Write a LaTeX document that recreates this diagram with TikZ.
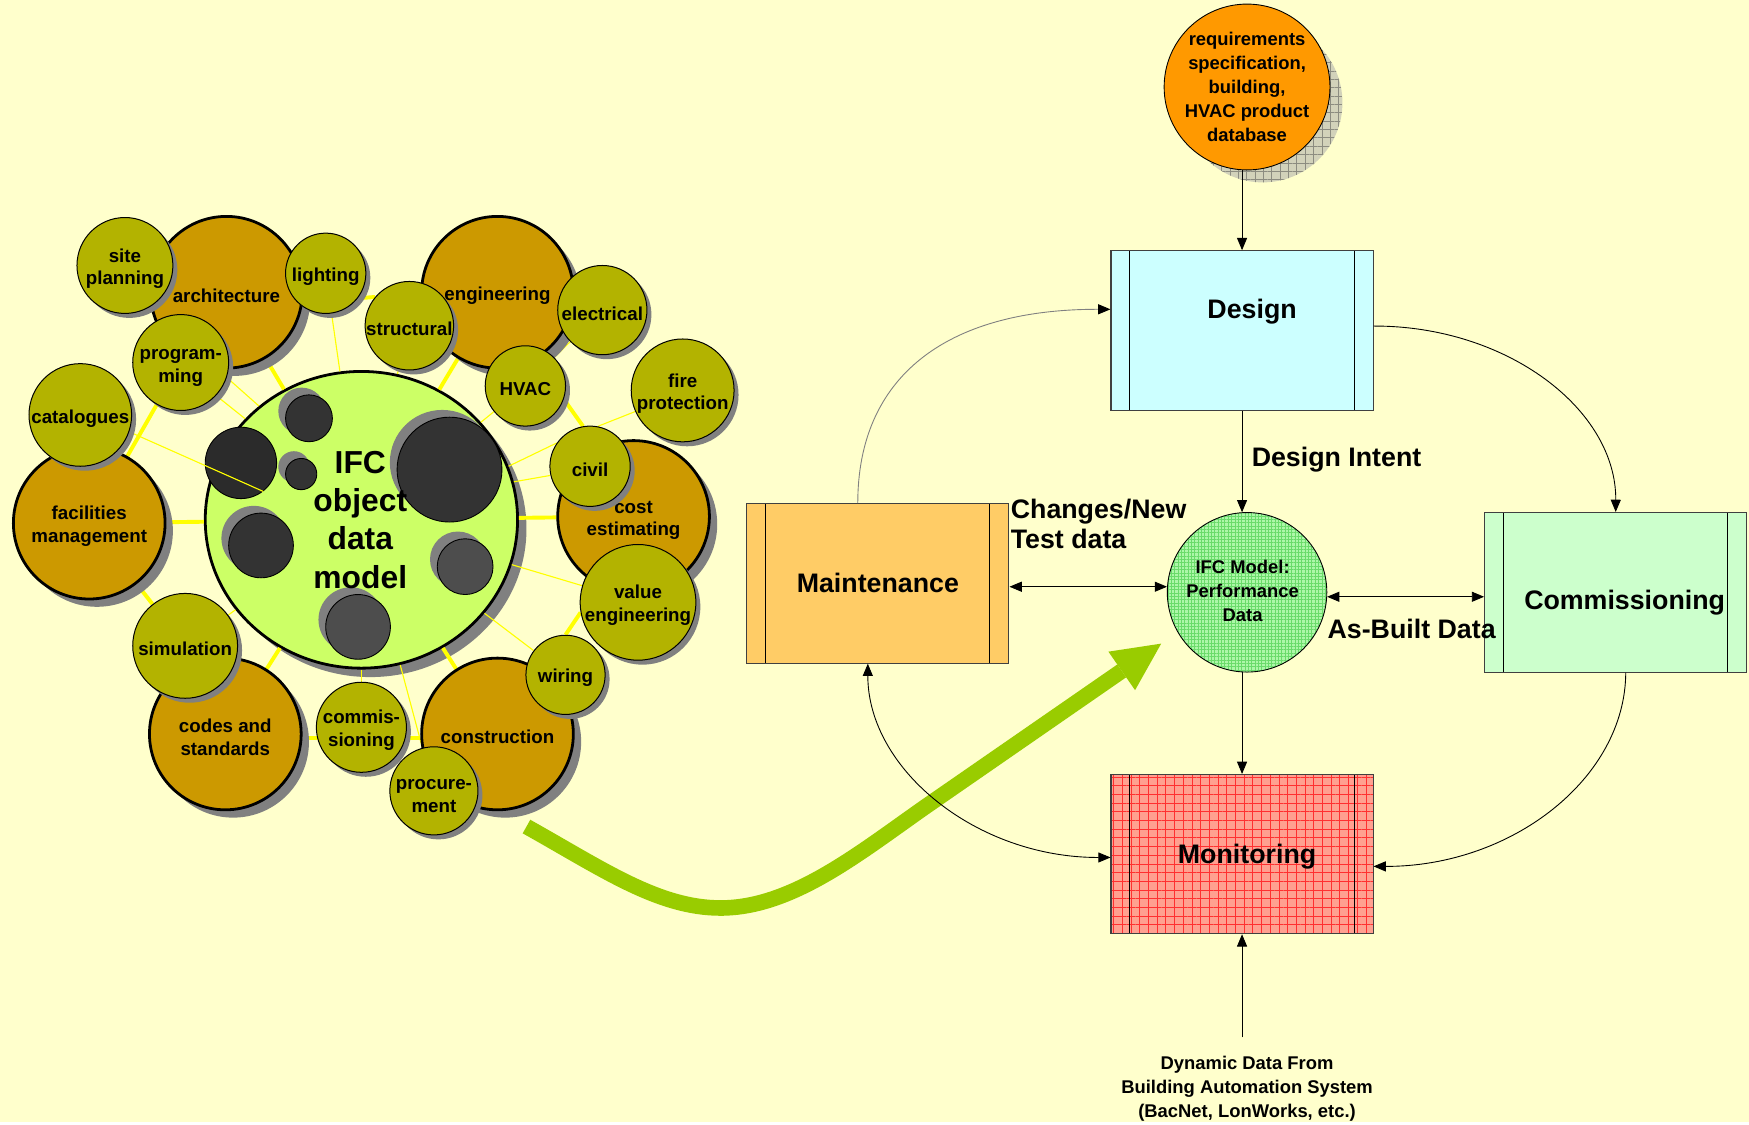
\documentclass[tikz,border=0pt]{standalone}
\usepackage{fontspec}
\setmainfont{Liberation Sans}
\usetikzlibrary{shapes.geometric,shadows,patterns.meta,arrows.meta}
\definecolor{paper}{HTML}{FFFFCC}
\definecolor{brownbub}{HTML}{CC9900}
\definecolor{olivebub}{HTML}{B3B300}
\definecolor{hubgreen}{HTML}{CCFF66}
\definecolor{shadowgray}{HTML}{808080}
\definecolor{holeA}{HTML}{2B2B2B}
\definecolor{holeB}{HTML}{333333}
\definecolor{holeC}{HTML}{4D4D4D}
\definecolor{linkyellow}{HTML}{FFFF00}
\definecolor{designblue}{HTML}{CCFFFF}
\definecolor{maintorange}{HTML}{FFCC66}
\definecolor{commgreen}{HTML}{CCFFCC}
\definecolor{monitorpink}{HTML}{FFA090}
\definecolor{monitorgrid}{HTML}{FF3030}
\definecolor{ifcmgreen}{HTML}{ADF7A8}
\definecolor{ifcmgrid}{HTML}{6ADB6A}
\definecolor{reqorange}{HTML}{FF9900}
\definecolor{reqshade}{HTML}{D2D2BA}
\definecolor{reqgrid}{HTML}{8C8C80}
\definecolor{bigarrow}{HTML}{99CC00}
\definecolor{boxgray}{HTML}{404040}
\newcommand\bubfont{\fontsize{16.8}{20.5}\selectfont\bfseries}
\newcommand\bubstrut{\rule{0pt}{18pt}}
\newcommand\hubfont{\fontsize{28.5}{34.5}\selectfont\bfseries}
\newcommand\boxfont{\fontsize{24}{27}\selectfont\bfseries}
\newcommand\notefont{\fontsize{16.5}{21.5}\selectfont\bfseries}
\pgfdeclarelayer{paper}
\pgfdeclarelayer{hub}
\pgfdeclarelayer{links}
\pgfsetlayers{paper,hub,links,main}
\begin{document}
\begin{tikzpicture}[x=1pt,y=-1pt]
    \tikzstyle{bigbub}=[circle, draw=black, line width=2.5pt, fill=brownbub, minimum size=136pt, inner sep=0pt, align=center, font=\bubfont,
      drop shadow={shadow xshift=7pt, shadow yshift=-7pt, fill=shadowgray, opacity=1}]
    \tikzstyle{smallbub}=[circle, draw=black, line width=0.9pt, fill=olivebub, inner sep=0pt, align=center, font=\bubfont,
      drop shadow={shadow xshift=4pt, shadow yshift=-4pt, fill=shadowgray, opacity=1}]
    \tikzstyle{hole}=[circle, draw=black, line width=0.8pt, inner sep=0pt,
      drop shadow={shadow xshift=-6.5pt, shadow yshift=6.5pt, fill=shadowgray, opacity=1}]
    \tikzstyle{thicklink}=[draw=linkyellow, line width=3.5pt]
    \tikzstyle{thinlink}=[draw=linkyellow, line width=1pt]
    \tikzstyle{procbox}=[rectangle, draw=boxgray, line width=1pt, minimum width=235pt, minimum height=143pt, font=\boxfont,
      path picture={\draw[black, line width=0.9pt] ([xshift=17pt]path picture bounding box.north west) -- ([xshift=17pt]path picture bounding box.south west);
        \draw[black, line width=0.9pt] ([xshift=-17pt]path picture bounding box.north east) -- ([xshift=-17pt]path picture bounding box.south east);}]
    \tikzstyle{flowarrow}=[draw=black, line width=0.8pt, -{Triangle[length=11pt,width=9pt,color=black]}]
    \tikzstyle{biarrow}=[draw=black, line width=0.8pt, {Triangle[length=11pt,width=9pt]}-{Triangle[length=11pt,width=9pt]}]
    \tikzstyle{flowlabel}=[inner sep=0pt, font=\boxfont, align=left]

    \begin{pgfonlayer}{paper}
      \path[fill=paper, use as bounding box] (0,0) rectangle (1568,1006);
    \end{pgfonlayer}

    % the IFC hub
    \begin{pgfonlayer}{hub}
      \node[ellipse, draw=black, line width=2.5pt, fill=hubgreen, minimum width=280pt, minimum height=266pt, inner sep=0pt,
        drop shadow={shadow xshift=8pt, shadow yshift=-8pt, fill=shadowgray, opacity=1}] (ifc) at (324,466) {};
      \node[circle, draw=black, line width=0.8pt, fill=holeA, minimum size=64pt, inner sep=0pt] (d1) at (216,415) {};
      \node[hole, fill=holeB, minimum size=42pt] (d2) at (277,375) {};
      \node[hole, fill=holeB, minimum size=28pt] (d3) at (270,425) {};
      \node[hole, fill=holeB, minimum size=94pt] (d4) at (403,421) {};
      \node[hole, fill=holeB, minimum size=58pt] (d5) at (234,489) {};
      \node[hole, fill=holeC, minimum size=50pt] (d6) at (417,508) {};
      \node[hole, fill=holeC, minimum size=58pt] (d7) at (321,562) {};
      \node[font=\hubfont, align=center, inner sep=0pt] (ifctext) at (323,466) {IFC\\object\\data\\model};
    \end{pgfonlayer}

    \node[bigbub] (arch) at (203,262) {\bubstrut architecture};
    \node[bigbub] (eng) at (446,262) {\bubstrut engineering};
    \node[bigbub] (fac) at (80,469) {\bubstrut facilities\\management};
    \node[bigbub] (cost) at (568,463) {\bubstrut cost\\estimating};
    \node[bigbub] (codes) at (202,658) {\bubstrut codes and\\standards};
    \node[bigbub] (constr) at (446,658) {\bubstrut construction};

    \node[smallbub, minimum size=86pt] (site) at (112,238) {\bubstrut site\\planning};
    \node[smallbub, minimum size=72pt] (light) at (292,245) {\bubstrut lighting};
    \node[smallbub, minimum size=86pt] (prog) at (162,325) {\bubstrut program-\\ming};
    \node[smallbub, minimum size=78pt] (struct) at (367,292) {\bubstrut structural};
    \node[smallbub, minimum size=80pt] (elec) at (540,278) {\bubstrut electrical};
    \node[smallbub, minimum size=72pt] (hvac) at (471,346) {\bubstrut HVAC};
    \node[smallbub, minimum size=92pt] (fire) at (612,350) {\bubstrut fire\\protection};
    \node[smallbub, minimum size=92pt] (cat) at (72,372) {\bubstrut catalogues};
    \node[smallbub, minimum size=72pt] (civil) at (529,418) {\bubstrut civil};
    \node[smallbub, minimum size=100pt] (value) at (572,540) {\bubstrut value\\engineering};
    \node[smallbub, minimum size=94pt] (sim) at (166,579) {\bubstrut simulation};
    \node[smallbub, minimum size=71pt] (wiring) at (507,605) {\bubstrut wiring};
    \node[smallbub, minimum size=80pt] (cmsn) at (324,652) {\bubstrut commis-\\sioning};
    \node[smallbub, minimum size=79pt] (proc) at (389,709) {\bubstrut procure-\\ment};

    \begin{pgfonlayer}{links}
      \draw[thicklink] (arch) -- (ifc);
      \draw[thicklink] (eng) -- (ifc);
      \draw[thicklink] (light.-38) -- (struct.140);
      \draw[thicklink] (fac) -- (prog);
      \draw[thicklink] (fac) -- (ifc);
      \draw[thicklink] (fac) -- (sim);
      \draw[thicklink] (ifc) -- (cost);
      \draw[thicklink] (hvac.-19) -- (civil.100);
      \draw[thicklink] (value.190) -- (wiring.90);
      \draw[thicklink] (ifc) -- (codes);
      \draw[thicklink] (ifc) -- (constr);
      \draw[thicklink] (codes.-3) -- (constr.183);
      \draw[thinlink] (light) -- (ifc);
      \draw[thinlink] (struct) -- (ifc);
      \draw[thinlink] (prog.-18) -- (ifc.132);
      \draw[thinlink] (prog.-43) -- (ifc.139);
      \draw[thinlink] (cat.-19) -- (d1.-52);
      \draw[thinlink] (hvac) -- (ifc);
      \draw[thinlink] (elec) -- (hvac);
      \draw[thinlink] (civil.145) -- (ifc.20);
      \draw[thinlink] (civil.193) -- (ifc.14);
      \draw[thinlink] (fire.204) -- (civil.79);
      \draw[thinlink] (value) -- (ifc);
      \draw[thinlink] (wiring) -- (ifc);
      \draw[thinlink] (cmsn) -- (ifc);
      \draw[thinlink] (proc) -- (ifc);
      \draw[thinlink] (sim) -- (ifc);
    \end{pgfonlayer}

    % process side
    \fill[reqshade] (1132,92) circle (71.5);
    \fill[pattern={Hatch[angle=0,distance=7.5pt,line width=0.5pt]}, pattern color=reqgrid] (1132,92) circle (71.5);
    \node[circle, draw=black, line width=0.8pt, fill=reqorange, minimum size=143pt, inner sep=0pt, align=center, font=\notefont] (req) at (1118,78)
      {requirements\\specification,\\building,\\HVAC product\\database};
    \node[procbox, fill=designblue, label={[font=\boxfont, xshift=9pt, yshift=17pt]center:Design}] (design) at (1113.5,296.3) {};
    \node[procbox, fill=maintorange] (maint) at (787,523) {Maintenance};
    \node[procbox, fill=commgreen, label={[font=\boxfont, xshift=8pt, yshift=-9pt]center:Commissioning}] (comm) at (1448.5,531) {};
    \node[procbox, preaction={fill=monitorpink}, pattern={Hatch[angle=0,distance=7.8pt,line width=0.7pt]}, pattern color=monitorgrid] (monitor) at (1113.5,765.7) {};
    \node[font=\boxfont] (monitortext) at (1118,768) {Monitoring};
    \node[circle, draw=black, line width=0.8pt, minimum size=143pt, inner sep=0pt, preaction={fill=ifcmgreen},
      pattern={Hatch[angle=0,distance=3pt,line width=0.5pt]}, pattern color=ifcmgrid] (ifcm) at (1118,531) {};
    \node[font=\notefont, align=center] (ifcmtext) at (1114,530) {IFC Model:\\Performance\\Data};

    \node[flowlabel, anchor=west] (intent) at (1122,412.5) {Design Intent};
    \node[flowlabel, anchor=west] (changes) at (906,469.5) {Changes/New\\Test data};
    \node[flowlabel, anchor=west] (asbuilt) at (1190,564) {As-Built Data};
    \node[font=\notefont, align=center] (dyn) at (1118,976) {Dynamic Data From\\Building Automation System\\(BacNet, LonWorks, etc.)};
    \coordinate (bas) at (1113.5,930);

    \coordinate (gstart) at (472,741);
    \coordinate (gtip) at (1041,577);
    \draw[line width=14pt, draw=bigarrow, -{Triangle[length=43pt,width=42pt,line width=0pt]}] (gstart)
      .. controls (540,779) and (590,814) .. (646,814) .. controls (710,814) and (770,765) .. (830,723) -- (gtip);

    \draw[flowarrow] (design.north |- req.south) -- (design.north);
    \draw[flowarrow] (design.south) -- (design.south |- ifcm.north);
    \draw[flowarrow] (monitor.north |- ifcm.south) -- (monitor.north);
    \draw[flowarrow] (bas) -- (monitor.south);
    \draw[biarrow] ([yshift=-3pt]maint.east) -- ([yshift=-3pt]maint.east -| ifcm.west);
    \draw[biarrow] ([yshift=-4pt]comm.west) -- ([yshift=-4pt]comm.west -| ifcm.east);
    \draw[flowarrow] ([yshift=4pt]design.east) .. controls (1351,292) and (1449,367) .. (comm.north);
    \draw[flowarrow, draw=gray] ([xshift=-18pt]maint.north) .. controls (769,338) and (848,277) .. ([yshift=19pt]design.west);
    \draw[flowarrow] ([xshift=9pt]comm.south) .. controls (1457,698) and (1355,777) .. ([yshift=-11pt]monitor.east);
    \draw[biarrow] ([xshift=-9pt]maint.south) .. controls (778,690) and (876,769) .. ([yshift=-3pt]monitor.west);
  \end{tikzpicture}
\end{document}
